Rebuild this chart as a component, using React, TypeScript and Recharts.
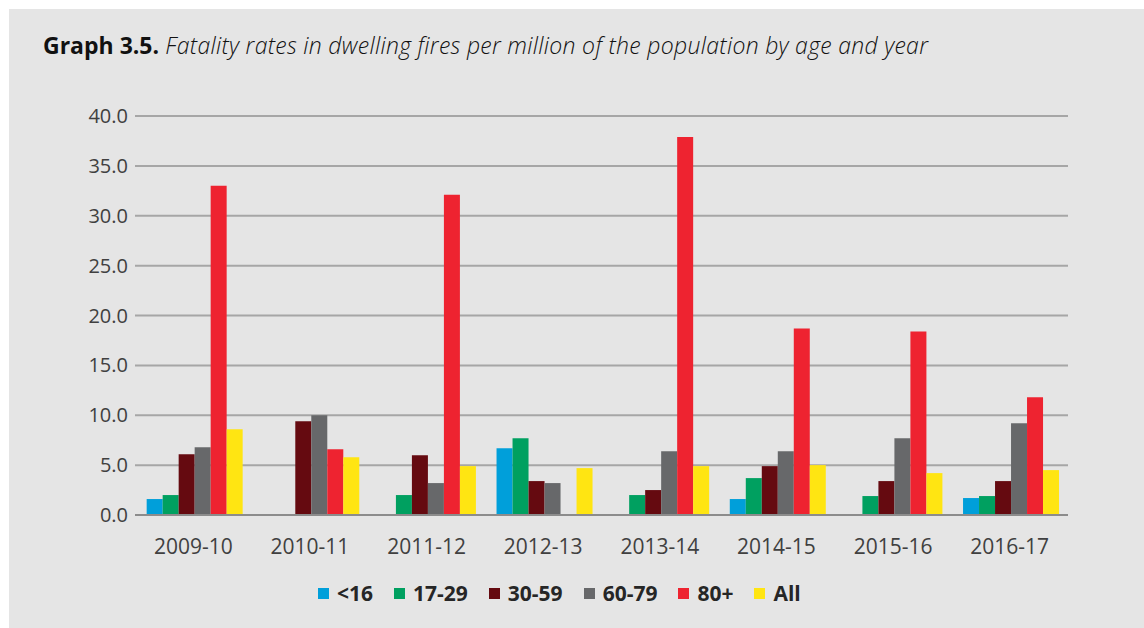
import React from 'react';
import { BarChart, Bar, XAxis, YAxis, CartesianGrid, Legend } from 'recharts';

const years = ['2009-10', '2010-11', '2011-12', '2012-13', '2013-14', '2014-15', '2015-16', '2016-17'];

const under16 = [1.6, null, null, 6.7, null, 1.6, null, 1.7];
const age17to29 = [2.0, null, 2.0, 7.7, 2.0, 3.7, 1.9, 1.9];
const age30to59 = [6.1, 9.4, 6.0, 3.4, 2.5, 4.9, 3.4, 3.4];
const age60to79 = [6.8, 10.0, 3.2, 3.2, 6.4, 6.4, 7.7, 9.2];
const age80plus = [33.0, 6.6, 32.1, null, 37.9, 18.7, 18.4, 11.8];
const allAges = [8.6, 5.8, 4.9, 4.7, 4.9, 5.0, 4.2, 4.5];

const yTicks = [0, 5, 10, 15, 20, 25, 30, 35, 40];

const series = [
  { key: 'u16', name: '<16', color: '#009fda', values: under16 },
  { key: 'a17', name: '17-29', color: '#00a060', values: age17to29 },
  { key: 'a30', name: '30-59', color: '#650a10', values: age30to59 },
  { key: 'a60', name: '60-79', color: '#67686a', values: age60to79 },
  { key: 'a80', name: '80+', color: '#ee2330', values: age80plus },
  { key: 'all', name: 'All', color: '#ffe512', values: allAges },
];

const data = years.map((year, i) => {
  const row: any = { year };
  series.forEach((s) => {
    row[s.key] = s.values[i];
  });
  return row;
});

const FONT = '"Open Sans", "Noto Sans", sans-serif';

// keep legend in series order (recharts sorts by name otherwise)
const order = (entry: any) => series.findIndex((s) => s.key === entry.dataKey);

const LegendContent = ({ payload }: any) => {
  const items = [...(payload || [])].sort((a, b) => order(a) - order(b));
  return (
    <div style={{ display: 'flex', alignItems: 'center', gap: 21, paddingLeft: 309, fontFamily: FONT }}>
      {items.map((entry: any, index: number) => (
        <div key={`item-${index}`} style={{ display: 'flex', alignItems: 'center' }}>
          <div style={{ width: 11, height: 11, backgroundColor: entry.color, marginRight: 8 }} />
          <span style={{ fontSize: 21, fontWeight: 700, color: '#262626' }}>{entry.value}</span>
        </div>
      ))}
    </div>
  );
};

export default function App() {
  return (
    <div
      style={{
        position: 'fixed',
        left: 9,
        top: 9,
        width: 1135,
        height: 619,
        background: '#e5e5e5',
        fontFamily: FONT,
      }}
    >
      <div
        style={{
          position: 'absolute',
          left: 34,
          top: 20,
          fontSize: 23,
          letterSpacing: 0.3,
          color: '#111',
          whiteSpace: 'nowrap',
        }}
      >
        <span style={{ fontWeight: 700, letterSpacing: 0 }}>Graph 3.5.</span>{' '}
        <span style={{ fontStyle: 'italic', fontWeight: 300 }}>
          Fatality rates in dwelling fires per million of the population by age and year
        </span>
      </div>
      <BarChart
        width={1135}
        height={619}
        data={data}
        margin={{ top: 107, right: 76, left: 0, bottom: 55 }}
        barGap={0}
        barCategoryGap="10%"
      >
        <CartesianGrid vertical={false} stroke="#a6a6a6" strokeWidth={2} />
        <XAxis
          dataKey="year"
          axisLine={{ stroke: '#8c8c8c', strokeWidth: 2 }}
          tickLine={false}
          tickSize={0}
          tickMargin={24}
          tick={{ fill: '#404040', fontSize: 21, fontFamily: FONT }}
          interval={0}
        />
        <YAxis
          width={126}
          domain={[0, 40]}
          ticks={yTicks}
          axisLine={false}
          tickLine={false}
          tickSize={0}
          tickMargin={7}
          tickFormatter={(v: number) => v.toFixed(1)}
          tick={{ fill: '#404040', fontSize: 20, fontFamily: FONT }}
        />
        <Legend
          verticalAlign="bottom"
          content={<LegendContent />}
          wrapperStyle={{ bottom: 'auto', top: 570, left: 0, width: 1135 }}
        />
        {series.map((s) => (
          <Bar key={s.key} dataKey={s.key} name={s.name} fill={s.color} isAnimationActive={false} />
        ))}
      </BarChart>
    </div>
  );
}
